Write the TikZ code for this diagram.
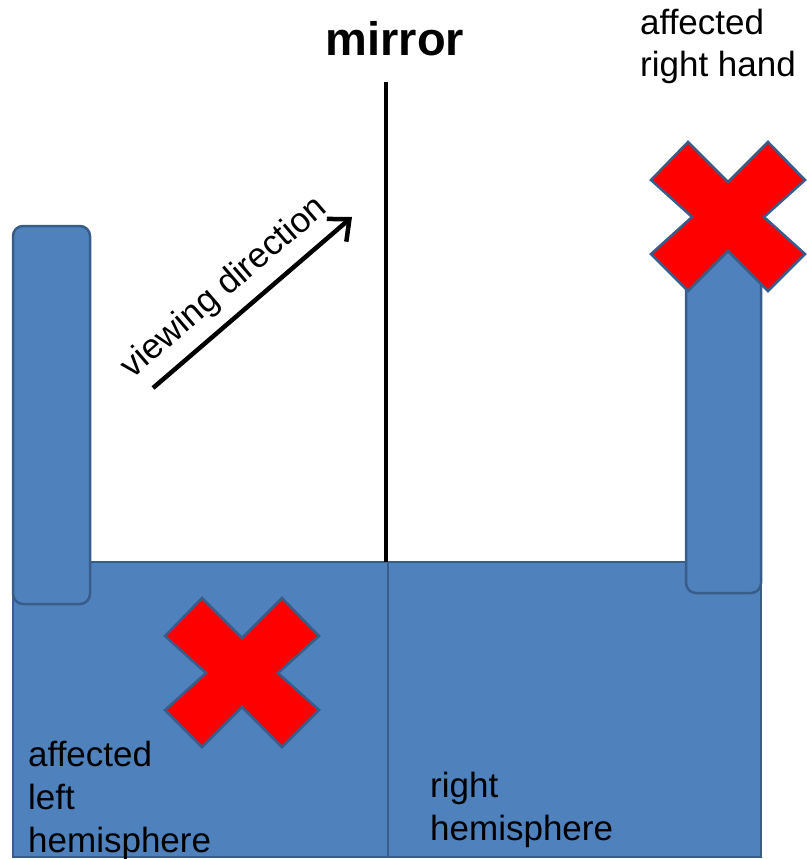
\documentclass[tikz,border=0pt]{standalone}
\usepackage{fontspec}
\setmainfont{Liberation Sans}
\usetikzlibrary{positioning, calc, arrows.meta}
\definecolor{hemifill}{RGB}{79, 129, 189}
\definecolor{hemiedge}{RGB}{56, 93, 138}
\definecolor{crossred}{RGB}{255, 0, 0}

\begin{document}
\begin{tikzpicture}[
      x=1pt, y=-1pt,
      hemi/.style={fill=hemifill, draw=hemiedge, line width=2.5pt},
      armbar/.style={hemi, rounded corners=10pt},
      crossmk/.style={fill=crossred, draw=hemiedge, line width=2.5pt, line join=miter},
      plaintext/.style={font=\fontsize{35}{43}\selectfont, align=left, anchor=base west, inner sep=0pt},
      viewarrow/.style={line width=4.5pt, -{Straight Barb[length=17pt, width=30pt, line width=4.5pt]}}
    ]
      \useasboundingbox (0,0) rectangle (806,859);

      % Hemispheres
      \draw[hemi] (13,562) rectangle (388,857);
      \draw[hemi] (388,562) rectangle (761,857);

      % Arms
      \draw[armbar] (13,226) rectangle (90,604);
      \draw[armbar] (686,245) rectangle (761,593);

      % Crosses: left hemisphere and right hand
      \foreach \cx/\cy in {242/673, 728/217}
        \draw[crossmk, shift={(\cx,\cy)}] (-40,-75) -- (0,-35) -- (40,-75) -- (77,-37) -- (36,0)
          -- (77,37) -- (40,74) -- (0,34) -- (-40,74) -- (-77,37) -- (-36,0) -- (-77,-37) -- cycle;

      % Mirror
      \coordinate (mirrortop) at (386,82);
      \coordinate (mirrorfoot) at (386,562);
      \draw[line width=3.5pt] (mirrortop) -- (mirrorfoot);
      \node[font=\bfseries\fontsize{47}{56}\selectfont, anchor=base, inner sep=0pt] (mirror) at (395,56) {mirror};

      % Viewing direction
      \coordinate (viewfrom) at (153,388);
      \coordinate (viewto) at (352,217);
      \draw[viewarrow] (viewfrom) -- (viewto)
        node[pos=0.455, sloped, anchor=base, yshift=20pt, inner sep=0pt, font=\fontsize{35}{43}\selectfont] (viewlabel) {viewing direction};

      % Labels (base = last line)
      \node[plaintext] (righthand) at (640,77) {affected\\right hand};
      \node[plaintext] (lefthemi) at (28,852) {affected\\left\\hemisphere};
      \node[plaintext] (righthemi) at (430,840) {right\\hemisphere};
    \end{tikzpicture}
\end{document}
